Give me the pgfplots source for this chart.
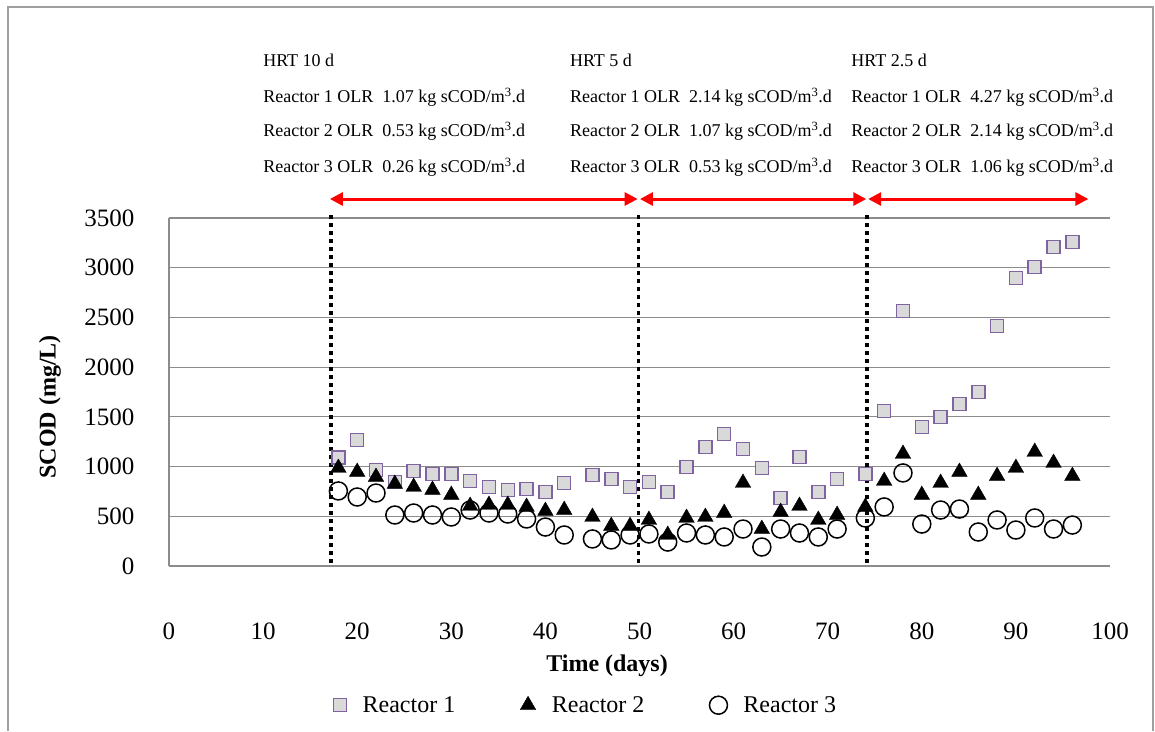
\documentclass[border=0pt]{standalone}
\usepackage{fontspec}
\setmainfont{Liberation Serif}
\usepackage{pgfplots}
\pgfplotsset{compat=1.18}
\usetikzlibrary{arrows.meta}

\definecolor{gridgray}{HTML}{8C8C8C}
\definecolor{framegray}{HTML}{A0A0A0}
\definecolor{sqedge}{HTML}{8064A2}
\definecolor{sqfill}{HTML}{D9D9D9}

\pgfplotstableread{
day r1   r2   r3
18  1090 986  755
20  1268 946  694
22  966  895  734
24  845  825  513
26  956  795  533
28  925  765  513
30  925  714  493
32  855  604  563
34  795  614  533
36  765  614  523
38  775  594  473
40  745  553  392
42  835  563  312
45  915  493  272
47  875  402  262
49  795  402  312
51  845  463  322
53  745  312  241
55  996  483  332
57  1197 493  312
59  1328 533  292
61  1177 835  372
63  986  372  191
65  684  543  372
67  1097 604  332
69  745  463  292
71  875  513  372
74  925  594  483
76  1559 855  594
78  2565 1127 936
80  1398 714  422
82  1499 835  563
84  1630 946  573
86  1750 714  342
88  2415 905  463
90  2897 986  362
92  3008 1147 483
94  3209 1036 372
96  3260 905  412
}\scod

\begin{document}
\begin{tikzpicture}
% bounding box and chart frame (1pt = 1px, origin at the axis corner)
\path (-169pt,-165pt) rectangle (986pt,566pt);
\draw[framegray, line width=1.2pt] (-161pt,-165pt) -- (-161pt,559pt) -- (984pt,559pt) -- (984pt,-165pt);

\begin{axis}[
    at={(0pt,0pt)}, anchor=south west,
    scale only axis,
    width=941pt, height=348pt,
    xmin=0, xmax=100, ymin=0, ymax=3500,
    xtick={0,10,...,100},
    ytick={0,500,...,3500},
    axis lines=left,
    axis line style={-, gridgray, line width=1.2pt},
    ymajorgrids,
    grid style={gridgray, line width=1.2pt},
    major tick length=0pt,
    clip=false,
    /pgf/number format/assume math mode=true,
    /pgf/number format/1000 sep={},
    ticklabel style={font=\fontsize{25}{30}\selectfont},
    xticklabel style={yshift=-53pt},
    yticklabel style={xshift=-31pt},
    xlabel={\textbf{Time (days)}},
    ylabel={\textbf{SCOD (mg/L)}},
    label style={font=\fontsize{24}{28}\selectfont},
    xlabel style={at={(axis description cs:0.4655,-0.287)}, anchor=center},
    ylabel style={at={(axis description cs:-0.1265,0.457)}, anchor=center},
    legend columns=3,
    legend style={draw=none, fill=none,
        font=\fontsize{24}{28}\selectfont,
        at={(axis description cs:0.443,-0.40)}, anchor=center,
        /tikz/every odd column/.append style={column sep=14pt},
        /tikz/every even column/.append style={column sep=63pt}},
    legend image code/.code={\draw[mark repeat=2,mark phase=2,#1]
        plot coordinates {(0pt,0pt)(10pt,0pt)(20pt,0pt)};},
]
\addplot[only marks, mark=square*, mark size=6.5pt,
    mark options={draw=sqedge, fill=sqfill, line width=1.5pt}]
    table[x=day, y=r1] {\scod};
\addlegendentry{Reactor 1}
\addplot[only marks, mark=triangle*, mark size=9pt,
    mark options={draw=black, fill=black}]
    table[x=day, y=r2] {\scod};
\addlegendentry{Reactor 2}
\addplot[only marks, mark=o, mark size=9pt,
    mark options={draw=black, line width=1.5pt}]
    table[x=day, y=r3] {\scod};
\addlegendentry{Reactor 3}

% HRT change lines
\draw[black, line width=3.5pt, dash pattern=on 4pt off 4pt] (axis cs:17.2,3530) -- (axis cs:17.2,0);
\draw[black, line width=3.5pt, dash pattern=on 4pt off 4pt] (axis cs:49.9,3530) -- (axis cs:49.9,0);
\draw[black, line width=3.5pt, dash pattern=on 4pt off 4pt] (axis cs:74.2,3530) -- (axis cs:74.2,0);

% period arrows
\draw[red, line width=3pt, {Triangle[length=13pt,width=13pt]}-{Triangle[length=13pt,width=13pt]}]
    (axis cs:17.1,3691) -- (axis cs:49.8,3691);
\draw[red, line width=3pt, {Triangle[length=13pt,width=13pt]}-{Triangle[length=13pt,width=13pt]}]
    (axis cs:50.05,3691) -- (axis cs:74.1,3691);
\draw[red, line width=3pt, {Triangle[length=13pt,width=13pt]}-{Triangle[length=13pt,width=13pt]}]
    (axis cs:74.3,3691) -- (axis cs:97.7,3691);

% period notes
\begin{scope}[every node/.style={anchor=base west, inner sep=0pt, font=\fontsize{18}{21}\selectfont}]
\node at (axis cs:10,5019) {HRT 10 d};
\node at (axis cs:10,4657) {Reactor 1 OLR\ \ 1.07 kg sCOD/m\textsuperscript{3}.d};
\node at (axis cs:10,4315) {Reactor 2 OLR\ \ 0.53 kg sCOD/m\textsuperscript{3}.d};
\node at (axis cs:10,3953) {Reactor 3 OLR\ \ 0.26 kg sCOD/m\textsuperscript{3}.d};
\node at (axis cs:42.6,5019) {HRT 5 d};
\node at (axis cs:42.6,4657) {Reactor 1 OLR\ \ 2.14 kg sCOD/m\textsuperscript{3}.d};
\node at (axis cs:42.6,4315) {Reactor 2 OLR\ \ 1.07 kg sCOD/m\textsuperscript{3}.d};
\node at (axis cs:42.6,3953) {Reactor 3 OLR\ \ 0.53 kg sCOD/m\textsuperscript{3}.d};
\node at (axis cs:72.5,5019) {HRT 2.5 d};
\node at (axis cs:72.5,4657) {Reactor 1 OLR\ \ 4.27 kg sCOD/m\textsuperscript{3}.d};
\node at (axis cs:72.5,4315) {Reactor 2 OLR\ \ 2.14 kg sCOD/m\textsuperscript{3}.d};
\node at (axis cs:72.5,3953) {Reactor 3 OLR\ \ 1.06 kg sCOD/m\textsuperscript{3}.d};
\end{scope}
\end{axis}
\end{tikzpicture}
\end{document}
